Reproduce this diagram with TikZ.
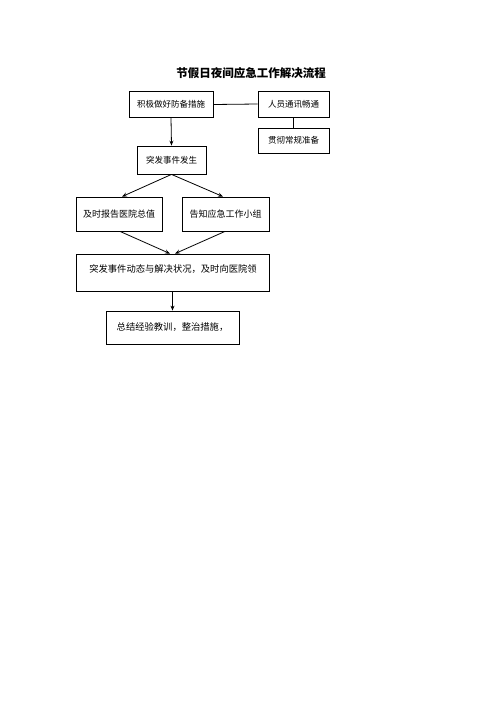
\documentclass[tikz,border=0pt]{standalone}
\usepackage{fontspec}
\setmainfont{Noto Sans CJK SC}
\usetikzlibrary{arrows.meta,calc}
\begin{document}
\begin{tikzpicture}[x=1pt,y=-1pt,
  box/.style={draw,line width=0.8pt,inner sep=0pt,font=\fontsize{8.5}{10}\selectfont},
  bigtxt/.style={inner sep=0pt,font=\fontsize{9.3}{11}\selectfont},
  conn/.style={line width=0.8pt},
  arr/.style={line width=0.8pt,-{Stealth[length=5pt,width=4pt]}}]
\useasboundingbox (0,0) rectangle (500,707);
\node[inner sep=0pt,font=\bfseries\fontsize{11.5}{13}\selectfont] (title) at (251,73) {节假日夜间应急工作解决流程};
\node[box,minimum width=84pt,minimum height=26pt] (b1) at (171,104.5) {积极做好防备措施};
\node[box,minimum width=71pt,minimum height=26pt] (b2) at (293.5,104) {人员通讯畅通};
\node[box,minimum width=71pt,minimum height=25pt] (b3) at (293.5,140.5) {贯彻常规准备};
\node[box,minimum width=69pt,minimum height=28pt] (b4) at (171.5,160) {突发事件发生};
\node[box,minimum width=86pt,minimum height=34pt,font=\fontsize{9}{10}\selectfont] (b5) at (119,214) {及时报告医院总值};
\node[box,minimum width=87pt,minimum height=34pt,font=\fontsize{9}{10}\selectfont] (b6) at (225.5,214) {告知应急工作小组};
\node[box,minimum width=193pt,minimum height=37pt] (b7) at (172.5,272.5) {};
\node[bigtxt] (t7) at (173,269) {突发事件动态与解决状况，及时向医院领};
\node[box,minimum width=133pt,minimum height=33pt,font=\fontsize{9.3}{11}\selectfont] (b8) at (172.5,327.5) {总结经验教训，整治措施，};
\draw[conn] (b1.east) -- (b2.west);
\draw[conn] (b2.south) -- (b3.north);
\draw[arr] (b1.south) -- (b4.north);
\draw[arr] (b4.south) -- ($(b5.north)+(3,0)$);
\draw[arr] (b4.south) -- ($(b6.north)+(-2.5,0)$);
\draw[arr] ($(b5.south)+(1,0)$) -- ($(b7.north)+(-2.5,0)$);
\draw[arr] ($(b6.south)+(-0.5,0)$) -- ($(b7.north)+(2.5,0)$);
\draw[arr] (b7.south) -- (b8.north);
\end{tikzpicture}
\end{document}
